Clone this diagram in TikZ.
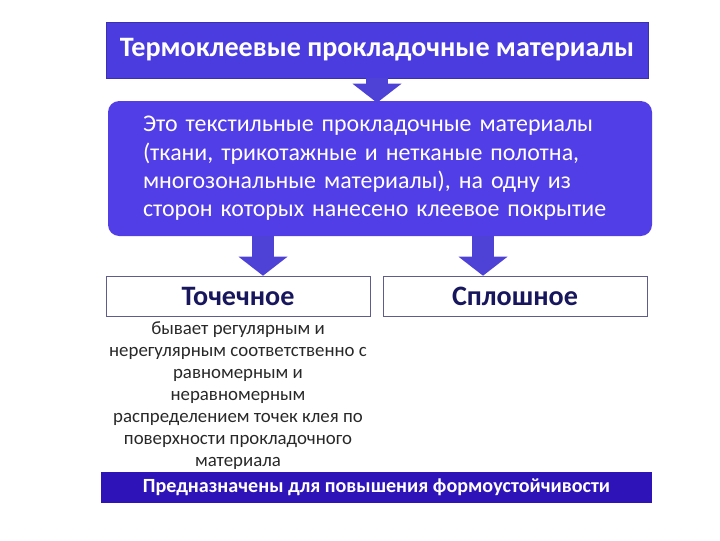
\documentclass[tikz,border=0pt]{standalone}
\usepackage{fontspec}
\setmainfont{Carlito}
\usetikzlibrary{calc,arrows.meta}
\definecolor{headblue}{RGB}{74,60,222}
\definecolor{bodyblue}{RGB}{82,62,230}
\definecolor{arrowblue}{RGB}{78,66,214}
\definecolor{barblue}{RGB}{46,20,184}
\definecolor{inkblue}{RGB}{24,22,92}
\definecolor{notegray}{RGB}{40,40,40}
\tikzset{
	headbox/.style={draw=headblue!80!black, fill=headblue, text=white, inner sep=0pt,
		minimum width={542*0.025cm}, minimum height={56*0.025cm},
		font=\fontsize{20}{23}\selectfont\bfseries},
	defbox/.style={fill=bodyblue, text=white, rounded corners=8pt, inner sep=0pt,
		minimum width={544*0.025cm}, minimum height={135*0.025cm},
		text width={474*0.025cm}, align=left, font=\fontsize{17}{20.2}\selectfont},
	kindbox/.style={draw=inkblue!70, fill=white, text=inkblue, inner sep=0pt,
		minimum width={264*0.025cm}, minimum height={40*0.025cm},
		font=\fontsize{20}{22}\selectfont\bfseries},
	note/.style={text=notegray, align=center, inner sep=0pt,
		font=\fontsize{13.4}{15.6}\selectfont},
	barbox/.style={fill=barblue, text=white, inner sep=0pt,
		minimum width={551*0.025cm}, minimum height={31*0.025cm},
		font=\fontsize{14.3}{17}\selectfont\bfseries},
	blockarrow/.style={draw=arrowblue, line width=22*0.025cm,
		-{Triangle[width=48*0.025cm,length=19*0.025cm]}}
}
\begin{document}
\begin{tikzpicture}[x=0.025cm,y=-0.025cm]
	\useasboundingbox (0,0) rectangle (720,540);
	\node[headbox] (head) at (377,50) {Термоклеевые прокладочные материалы};
	\node[defbox] (defn) at (380,168.5) {Это текстильные прокладочные материалы\\
		(ткани, трикотажные и нетканые полотна,\\
		многозональные материалы), на одну из\\
		сторон которых нанесено клеевое покрытие};
	\node[kindbox] (spot) at (238,296) {Точечное};
	\node[kindbox] (solid) at (515,296) {Сплошное};
	\node[note, anchor=north] (note) at ($(spot.south)+(0,5)$) {бывает регулярным и\\
		нерегулярным соответственно с\\
		равномерным и\\
		неравномерным\\
		распределением точек клея по\\
		поверхности прокладочного\\
		материала};
	\node[barbox] (bar) at (376.5,487.5) {Предназначены для повышения формоустойчивости};
	% arrows
	\coordinate (tip0) at ($(defn.north)+(-3,2)$);
	\coordinate (tip1) at ($(spot.north)+(25,0)$);
	\coordinate (tip2) at ($(solid.north)+(-32,0)$);
	\draw[blockarrow] (head.south -| tip0) -- (tip0);
	\draw[blockarrow] (defn.south -| tip1) -- (tip1);
	\draw[blockarrow] (defn.south -| tip2) -- (tip2);
\end{tikzpicture}
\end{document}
